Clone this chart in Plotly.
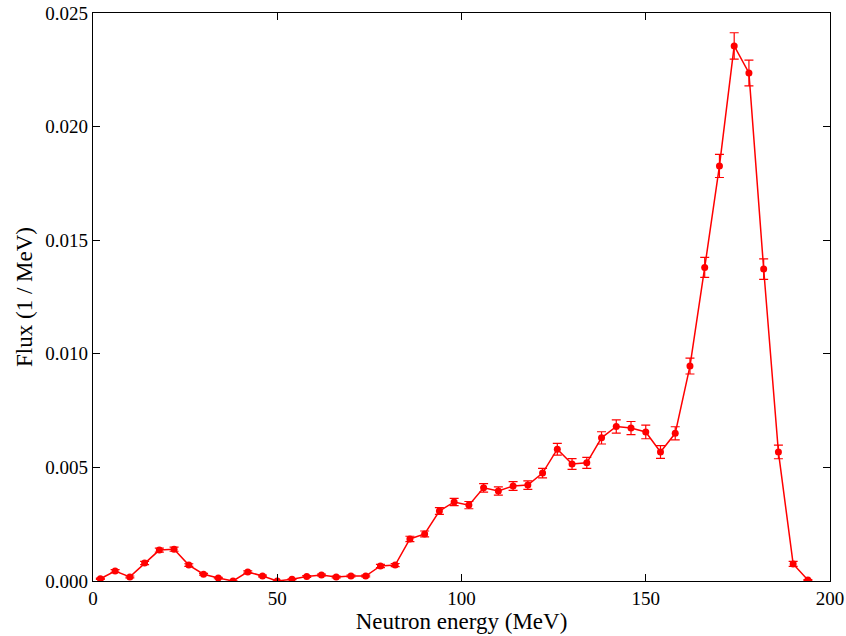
import plotly.graph_objects as go

energy = [2, 6, 10, 14, 18, 22, 26, 30, 34, 38, 42, 46, 50, 54, 58, 62, 66, 70, 74, 78,
          82, 86, 90, 94, 98, 102, 106, 110, 114, 118, 122, 126, 130, 134, 138, 142, 146,
          150, 154, 158, 162, 166, 170, 174, 178, 182, 186, 190, 194]
flux = [0.00010, 0.00044, 0.00018, 0.00079, 0.00136, 0.00140, 0.00070, 0.00030, 0.00013,
        0.00000, 0.00040, 0.00022, 0.00000, 0.00008, 0.00020, 0.00026, 0.00018, 0.00022,
        0.00022, 0.00066, 0.00070, 0.00185, 0.00207, 0.00308, 0.00348, 0.00334, 0.00410,
        0.00396, 0.00418, 0.00422, 0.00475, 0.00580, 0.00515, 0.00520, 0.00630, 0.00680,
        0.00673, 0.00656, 0.00568, 0.00650, 0.00946, 0.01380, 0.01827, 0.02355, 0.02236,
        0.01373, 0.00568, 0.00075, 0.00004]
flux_err = [0.00003, 0.00006, 0.00004, 0.00007, 0.00009, 0.00009, 0.00006, 0.00004, 0.00003,
            0.00001, 0.00005, 0.00004, 0.00001, 0.00002, 0.00004, 0.00004, 0.00004, 0.00004,
            0.00004, 0.00007, 0.00007, 0.00012, 0.00013, 0.00015, 0.00016, 0.00016, 0.00019,
            0.00018, 0.00019, 0.00019, 0.00021, 0.00026, 0.00024, 0.00024, 0.00027, 0.00029,
            0.00029, 0.00030, 0.00028, 0.00029, 0.00035, 0.00044, 0.00051, 0.00058, 0.00057,
            0.00045, 0.00030, 0.00011, 0.00002]

x_ticks = [0, 50, 100, 150, 200]
y_ticks = [0.000, 0.005, 0.010, 0.015, 0.020, 0.025]

font_family = "Liberation Serif, DejaVu Serif, serif"

fig = go.Figure()
fig.add_trace(go.Scatter(
    x=energy, y=flux,
    mode="lines+markers",
    line=dict(color="red", width=1.5),
    marker=dict(color="red", size=7, symbol="circle"),
    error_y=dict(type="data", array=flux_err, visible=True, color="red",
                 thickness=1.2, width=4.5),
    showlegend=False,
))

axis_common = dict(
    showline=True, linecolor="black", linewidth=1.2, mirror="ticks",
    ticks="inside", ticklen=7, tickwidth=1, tickcolor="black",
    showgrid=False, zeroline=False, automargin=False,
    tickfont=dict(family=font_family, size=19, color="black"),
)

fig.update_xaxes(range=[0, 200], tickvals=x_ticks, ticktext=[str(v) for v in x_ticks],
                 title=dict(text="Neutron energy (MeV)", standoff=4,
                            font=dict(family=font_family, size=23, color="black")),
                 **axis_common)
fig.update_yaxes(range=[0, 0.025], tickvals=y_ticks,
                 ticktext=[f"{v:.3f}" for v in y_ticks],
                 title=dict(text="Flux (1 / MeV)", standoff=6,
                            font=dict(family=font_family, size=23, color="black")),
                 **axis_common)

fig.update_layout(
    width=846, height=636,
    margin=dict(l=93, r=16, t=13, b=55),
    paper_bgcolor="white", plot_bgcolor="white",
    font=dict(family=font_family, color="black"),
)

fig.write_html("out.html")
